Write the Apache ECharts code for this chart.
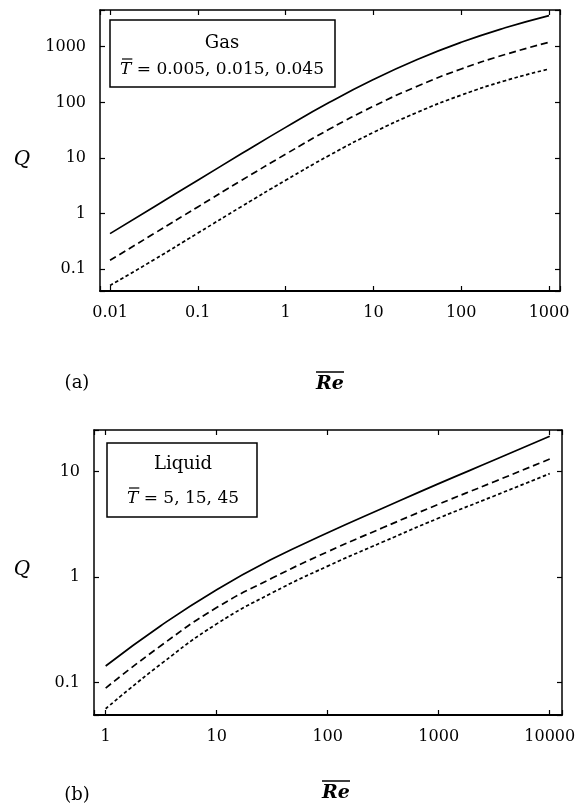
<!DOCTYPE html>
<html>
<head>
<meta charset="utf-8">
<script src="https://cdn.jsdelivr.net/npm/echarts@6/dist/echarts.min.js"></script>
<style>
  html, body { margin: 0; padding: 0; background: #fff; }
  #chart { width: 579px; height: 807px; }
</style>
</head>
<body>
<div id="chart"></div>
<script>
// (a) Gas: Q against Re for T = 0.005, 0.015, 0.045
const gasRe = [0.01, 0.0316, 0.1, 0.316, 1, 3.16, 10, 31.6, 100, 316, 1000];
const gasQ_T0005 = [0.437, 1.32, 3.98, 12.0, 35.5, 100, 257, 589, 1202, 2188, 3631];
const gasQ_T0015 = [0.145, 0.437, 1.32, 3.98, 11.7, 33.1, 85.1, 195, 398, 724, 1202];
const gasQ_T0045 = [0.0513, 0.148, 0.447, 1.35, 3.98, 11.2, 28.8, 66.1, 135, 245, 398];

// (b) Liquid: Q against Re for T = 5, 15, 45
const liqRe = [1, 3.16, 10, 31.6, 100, 316, 1000, 3162, 10000];
const liqQ_T5 = [0.143, 0.347, 0.759, 1.48, 2.63, 4.52, 7.71, 12.9, 21.7];
const liqQ_T15 = [0.0883, 0.224, 0.513, 0.977, 1.74, 2.95, 4.92, 8.04, 13.2];
const liqQ_T45 = [0.0562, 0.150, 0.359, 0.708, 1.27, 2.16, 3.63, 5.89, 9.59];

// Tick labels
const gasReTicks = ['0.01', '0.1', '1', '10', '100', '1000'];
const gasQTicks = ['0.1', '1', '10', '100', '1000'];
const liqReTicks = ['1', '10', '100', '1000', '10000'];
const liqQTicks = ['0.1', '1', '10'];

const SERIF = 'DejaVu Serif';
const KEY_FONT = '17px "' + SERIF + '"';
const KEY_T_FONT = 'italic 17px "' + SERIF + '"';

function tickFormatter(labels) {
  return function (v) {
    const hit = labels.find(l => Math.abs(Math.log10(+l) - Math.log10(v)) < 1e-6);
    return hit || '';
  };
}

function logAxis(gridIndex, position, min, max, labels, showLabels, lineWidth) {
  return {
    type: 'log',
    logBase: 10,
    gridIndex: gridIndex,
    position: position,
    min: min,
    max: max,
    axisLine: { show: true, onZero: false, lineStyle: { color: '#000', width: lineWidth || 1.5 } },
    axisTick: { show: true, inside: true, length: 5, lineStyle: { color: '#000', width: 1.2 } },
    axisLabel: {
      show: showLabels,
      margin: 14,
      color: '#000',
      fontFamily: SERIF,
      fontSize: 16,
      formatter: tickFormatter(labels)
    },
    splitLine: { show: false },
    minorTick: { show: false },
    minorSplitLine: { show: false }
  };
}

function curve(xs, ys, xi, yi, dash) {
  return {
    type: 'line',
    xAxisIndex: xi,
    yAxisIndex: yi,
    data: xs.map((x, i) => [x, ys[i]]),
    showSymbol: false,
    smooth: 0.5,
    silent: true,
    lineStyle: { color: '#000', width: 1.7, type: dash }
  };
}

const LONG_DASH = [7, 4];
const SHORT_DASH = [3.5, 2.5];

// Text measuring for placing overbars
const measureCtx = document.createElement('canvas').getContext('2d');
function textWidth(str, font) {
  measureCtx.font = font;
  return measureCtx.measureText(str).width;
}

// Re with an overbar: the bar is a short rule above the glyphs
function barredRe(cx, cy) {
  return [
    { type: 'text', x: cx, y: cy, z: 101,
      style: { text: 'Re', fill: '#000', font: 'italic bold 19px "' + SERIF + '"', textAlign: 'center', textVerticalAlign: 'middle' } },
    { type: 'line', z: 101,
      shape: { x1: cx - 14, y1: cy - 12, x2: cx + 14, y2: cy - 12 },
      style: { stroke: '#000', lineWidth: 1.5 } }
  ];
}

// "T̄ = ..." key line, centred at (cx, cy), with a bar over the italic T
function barredTLine(rest, cx, cy) {
  const wT = textWidth('T', KEY_T_FONT);
  const wRest = textWidth(rest, KEY_FONT);
  const x0 = cx - (wT + wRest) / 2;
  return [
    { type: 'text', x: x0, y: cy, z: 101,
      style: { text: '{t|T}' + rest, fill: '#000', font: KEY_FONT,
        textAlign: 'left', textVerticalAlign: 'middle',
        rich: { t: { fontStyle: 'italic', fontFamily: SERIF, fontSize: 17 } } } },
    { type: 'line', z: 101,
      shape: { x1: x0 + 2, y1: cy - 11, x2: x0 + wT + 1, y2: cy - 11 },
      style: { stroke: '#000', lineWidth: 1.2 } }
  ];
}

const chart = echarts.init(document.getElementById('chart'), null, { renderer: 'canvas' });

chart.setOption({
  backgroundColor: '#fff',
  animation: false,
  grid: [
    { left: 100, top: 10, width: 460, height: 281, containLabel: false },
    { left: 94, top: 430, width: 468, height: 285, containLabel: false }
  ],
  xAxis: [
    logAxis(0, 'bottom', 0.00769, 1334, gasReTicks, true, 2),
    logAxis(0, 'top', 0.00769, 1334, gasReTicks, false),
    logAxis(1, 'bottom', 0.785, 12900, liqReTicks, true, 2),
    logAxis(1, 'top', 0.785, 12900, liqReTicks, false)
  ],
  yAxis: [
    logAxis(0, 'left', 0.0407, 4571, gasQTicks, true),
    logAxis(0, 'right', 0.0407, 4571, gasQTicks, false),
    logAxis(1, 'left', 0.049, 24.9, liqQTicks, true),
    logAxis(1, 'right', 0.049, 24.9, liqQTicks, false)
  ],
  series: [
    curve(gasRe, gasQ_T0005, 0, 0, 'solid'),
    curve(gasRe, gasQ_T0015, 0, 0, LONG_DASH),
    curve(gasRe, gasQ_T0045, 0, 0, SHORT_DASH),
    curve(liqRe, liqQ_T5, 2, 2, 'solid'),
    curve(liqRe, liqQ_T15, 2, 2, LONG_DASH),
    curve(liqRe, liqQ_T45, 2, 2, SHORT_DASH)
  ],
  graphic: [
    // Gas key box
    { type: 'rect', shape: { x: 110, y: 20, width: 225, height: 67 },
      style: { fill: '#fff', stroke: '#000', lineWidth: 1.5 }, z: 100 },
    { type: 'text', x: 222, y: 43, z: 101,
      style: { text: 'Gas', fill: '#000', font: '18px "' + SERIF + '"', textAlign: 'center', textVerticalAlign: 'middle' } },
    ...barredTLine(' = 0.005, 0.015, 0.045', 222, 70),
    // Liquid key box
    { type: 'rect', shape: { x: 107, y: 443, width: 150, height: 74 },
      style: { fill: '#fff', stroke: '#000', lineWidth: 1.5 }, z: 100 },
    { type: 'text', x: 183, y: 464, z: 101,
      style: { text: 'Liquid', fill: '#000', font: '18px "' + SERIF + '"', textAlign: 'center', textVerticalAlign: 'middle' } },
    ...barredTLine(' = 5, 15, 45', 183, 499),
    // Axis titles
    { type: 'text', x: 22, y: 160, z: 101,
      style: { text: 'Q', fill: '#000', font: 'italic 20px "' + SERIF + '"', textAlign: 'center', textVerticalAlign: 'middle' } },
    { type: 'text', x: 22, y: 570, z: 101,
      style: { text: 'Q', fill: '#000', font: 'italic 20px "' + SERIF + '"', textAlign: 'center', textVerticalAlign: 'middle' } },
    ...barredRe(330, 384),
    ...barredRe(336, 793),
    // Panel labels
    { type: 'text', x: 77, y: 383, z: 101,
      style: { text: '(a)', fill: '#000', font: '18px "' + SERIF + '"', textAlign: 'center', textVerticalAlign: 'middle' } },
    { type: 'text', x: 77, y: 795, z: 101,
      style: { text: '(b)', fill: '#000', font: '18px "' + SERIF + '"', textAlign: 'center', textVerticalAlign: 'middle' } }
  ]
});
</script>
</body>
</html>
